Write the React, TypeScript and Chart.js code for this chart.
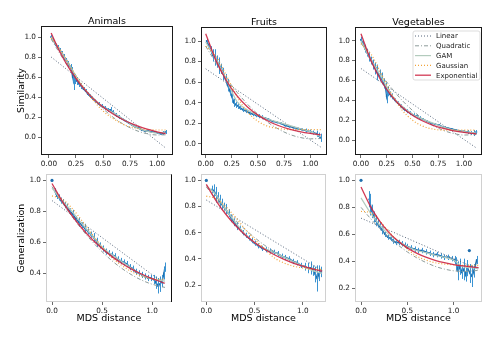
import React, { useEffect, useRef } from 'react';
import { Chart, registerables } from 'chart.js';

Chart.register(...registerables);

const COLUMN_TITLES = ['Animals', 'Fruits', 'Vegetables'];
const ROW_LABELS = ['Similarity', 'Generalization'];
const X_LABEL = 'MDS distance';
const FIT_LABELS = ['Linear', 'Quadratic', 'GAM', 'Gaussian', 'Exponential'];

const X_TICKS_TOP = [0, 0.25, 0.5, 0.75, 1.0];
const X_TICKS_BOTTOM = [0, 0.5, 1.0];
const Y_TICKS_SIM = [0, 0.2, 0.4, 0.6, 0.8, 1.0];
const Y_TICKS_GEN_ANIMALS = [0.4, 0.6, 0.8, 1.0];
const Y_TICKS_GEN = [0.2, 0.4, 0.6, 0.8, 1.0];

// ---------- Similarity: Animals ----------
const SIM_ANIMALS_X = [0.02, 0.04, 0.06, 0.08, 0.10, 0.12, 0.14, 0.16, 0.18, 0.20,
  0.21, 0.22, 0.23, 0.24,
  0.26, 0.28, 0.30, 0.32, 0.34, 0.36, 0.38, 0.40,
  0.43, 0.46, 0.49, 0.52, 0.55,
  0.57, 0.59,
  0.62, 0.65, 0.68, 0.71, 0.74, 0.77, 0.80, 0.83, 0.86, 0.89, 0.92, 0.95, 0.98, 1.01, 1.04,
  1.06, 1.08];
const SIM_ANIMALS_Y = [1.00, 0.97, 0.93, 0.90, 0.87, 0.84, 0.80, 0.77, 0.73, 0.70,
  0.66, 0.60, 0.55, 0.58,
  0.56, 0.53, 0.51, 0.48, 0.46, 0.43, 0.41, 0.39,
  0.36, 0.33, 0.31, 0.29, 0.27,
  0.27, 0.25,
  0.22, 0.20, 0.18, 0.16, 0.14, 0.12, 0.10, 0.09, 0.07, 0.06, 0.06, 0.05, 0.05, 0.04, 0.03,
  0.04, 0.05];
const SIM_ANIMALS_E = [0.02, 0.02, 0.02, 0.02, 0.02, 0.02, 0.03, 0.02, 0.03, 0.03,
  0.04, 0.06, 0.08, 0.05,
  0.04, 0.03, 0.03, 0.02, 0.02, 0.02, 0.02, 0.02,
  0.02, 0.02, 0.02, 0.02, 0.02,
  0.03, 0.02,
  0.02, 0.02, 0.01, 0.01, 0.01, 0.01, 0.01, 0.01, 0.01, 0.01, 0.01, 0.01, 0.01, 0.01, 0.01,
  0.02, 0.02];

// ---------- Similarity: Fruits ----------
const SIM_FRUITS_X = [0.01, 0.03, 0.05, 0.07, 0.09, 0.11, 0.13, 0.15, 0.17, 0.19, 0.21, 0.23, 0.25, 0.27, 0.29, 0.31, 0.33,
  0.36, 0.39, 0.42, 0.45, 0.48, 0.51, 0.54, 0.57, 0.60,
  0.64, 0.68, 0.72, 0.76, 0.80, 0.84, 0.88, 0.92, 0.96, 1.00,
  1.03, 1.06, 1.08, 1.10];
const SIM_FRUITS_Y = [1.00, 0.95, 0.91, 0.86, 0.84, 0.80, 0.76, 0.73, 0.68, 0.63, 0.57, 0.52, 0.46, 0.40, 0.38, 0.37, 0.35,
  0.33, 0.32, 0.30, 0.29, 0.28, 0.27, 0.26, 0.25, 0.24,
  0.22, 0.21, 0.20, 0.18, 0.17, 0.16, 0.15, 0.14, 0.13, 0.12,
  0.11, 0.10, 0.08, 0.06];
const SIM_FRUITS_E = [0.02, 0.03, 0.04, 0.06, 0.08, 0.06, 0.08, 0.05, 0.06, 0.05, 0.06, 0.05, 0.06, 0.04, 0.03, 0.03, 0.02,
  0.02, 0.02, 0.02, 0.02, 0.02, 0.02, 0.02, 0.01, 0.01,
  0.01, 0.01, 0.01, 0.01, 0.01, 0.01, 0.01, 0.01, 0.02, 0.02,
  0.02, 0.03, 0.03, 0.04];

// ---------- Similarity: Vegetables ----------
const SIM_VEG_X = [0.00, 0.02, 0.04, 0.06, 0.08, 0.10, 0.12, 0.14, 0.16, 0.18, 0.20, 0.22, 0.24,
  0.25, 0.26, 0.28, 0.30,
  0.33, 0.36, 0.39, 0.42, 0.45, 0.48, 0.51, 0.54, 0.57, 0.60,
  0.64, 0.68, 0.72, 0.76, 0.80, 0.84, 0.88, 0.92, 0.96, 1.00,
  1.04, 1.07, 1.10, 1.12];
const SIM_VEG_Y = [1.01, 0.97, 0.92, 0.88, 0.84, 0.80, 0.76, 0.72, 0.68, 0.65, 0.62, 0.57, 0.52,
  0.44, 0.49, 0.46, 0.44,
  0.40, 0.37, 0.34, 0.31, 0.29, 0.27, 0.25, 0.24, 0.22, 0.21,
  0.19, 0.17, 0.16, 0.15, 0.13, 0.12, 0.11, 0.10, 0.09, 0.085,
  0.08, 0.07, 0.07, 0.08];
const SIM_VEG_E = [0.03, 0.03, 0.04, 0.04, 0.05, 0.04, 0.05, 0.06, 0.08, 0.06, 0.06, 0.05, 0.06,
  0.07, 0.05, 0.03, 0.03,
  0.02, 0.02, 0.02, 0.02, 0.02, 0.02, 0.02, 0.02, 0.02, 0.01,
  0.01, 0.01, 0.01, 0.01, 0.01, 0.01, 0.01, 0.01, 0.01, 0.01,
  0.02, 0.02, 0.03, 0.02];

// ---------- Generalization: Animals ----------
const GEN_ANIMALS_X = [0.03, 0.05, 0.07, 0.09, 0.11, 0.13, 0.15,
  0.18, 0.21, 0.24, 0.27, 0.30, 0.33, 0.36, 0.39, 0.42, 0.45, 0.48, 0.51, 0.54, 0.57, 0.60, 0.63, 0.66, 0.69, 0.72, 0.75, 0.78, 0.81, 0.84, 0.87, 0.90, 0.93, 0.96, 0.99, 1.02,
  1.04, 1.06, 1.08, 1.10, 1.12, 1.13];
const GEN_ANIMALS_Y = [0.93, 0.90, 0.89, 0.87, 0.86, 0.84, 0.83,
  0.80, 0.78, 0.75, 0.73, 0.71, 0.69, 0.67, 0.65, 0.63, 0.60, 0.58, 0.56, 0.54, 0.53, 0.52, 0.51, 0.49, 0.48, 0.47, 0.46, 0.44, 0.43, 0.41, 0.40, 0.39, 0.38, 0.37, 0.37, 0.36,
  0.34, 0.32, 0.33, 0.35, 0.40, 0.44];
const GEN_ANIMALS_E = [0.02, 0.02, 0.02, 0.02, 0.02, 0.02, 0.02,
  0.02, 0.03, 0.02, 0.03, 0.02, 0.03, 0.02, 0.02, 0.03, 0.03, 0.02, 0.02, 0.02, 0.02, 0.02, 0.02, 0.02, 0.02, 0.02, 0.02, 0.02, 0.02, 0.02, 0.02, 0.02, 0.02, 0.02, 0.02, 0.03,
  0.04, 0.05, 0.05, 0.04, 0.04, 0.03];

// ---------- Generalization: Fruits ----------
const GEN_FRUITS_X = [0.06, 0.08, 0.10, 0.12, 0.14, 0.16, 0.18, 0.20,
  0.23, 0.26, 0.29, 0.32, 0.35, 0.38, 0.41, 0.44, 0.47, 0.50,
  0.54, 0.58, 0.62, 0.66, 0.70, 0.74, 0.78, 0.82, 0.86, 0.90, 0.94, 0.98, 1.02,
  1.05, 1.08, 1.11, 1.13, 1.15, 1.17, 1.19];
const GEN_FRUITS_Y = [0.93, 0.92, 0.89, 0.87, 0.84, 0.82, 0.80, 0.78,
  0.75, 0.71, 0.68, 0.65, 0.63, 0.60, 0.58, 0.56, 0.54, 0.52,
  0.50, 0.48, 0.47, 0.46, 0.45, 0.44, 0.42, 0.41, 0.40, 0.38, 0.37, 0.35, 0.34,
  0.33, 0.33, 0.31, 0.28, 0.25, 0.29, 0.30];
const GEN_FRUITS_E = [0.03, 0.05, 0.06, 0.04, 0.05, 0.04, 0.03, 0.04,
  0.03, 0.03, 0.03, 0.03, 0.02, 0.02, 0.02, 0.02, 0.02, 0.02,
  0.02, 0.02, 0.02, 0.02, 0.02, 0.02, 0.02, 0.02, 0.02, 0.02, 0.02, 0.02, 0.03,
  0.04, 0.05, 0.04, 0.06, 0.10, 0.06, 0.04];

// ---------- Generalization: Vegetables ----------
const GEN_VEG_X = [0.09, 0.10, 0.12, 0.14, 0.16, 0.18, 0.20,
  0.23, 0.26, 0.29, 0.32, 0.35, 0.38, 0.41, 0.44, 0.47, 0.50,
  0.54, 0.58, 0.62, 0.66, 0.70, 0.74, 0.78, 0.82, 0.86, 0.90, 0.94, 0.98,
  1.01, 1.03, 1.05, 1.07, 1.09, 1.11, 1.13, 1.15, 1.18, 1.20, 1.22, 1.25];
const GEN_VEG_Y = [0.86, 0.82, 0.77, 0.73, 0.70, 0.68, 0.66,
  0.63, 0.60, 0.58, 0.57, 0.55, 0.54, 0.54, 0.53, 0.52, 0.51,
  0.50, 0.49, 0.48, 0.48, 0.47, 0.46, 0.45, 0.45, 0.44, 0.43, 0.43, 0.42,
  0.41, 0.38, 0.33, 0.36, 0.32, 0.34, 0.30, 0.35, 0.31, 0.29, 0.33, 0.41];
const GEN_VEG_E = [0.06, 0.08, 0.05, 0.04, 0.04, 0.03, 0.03,
  0.03, 0.02, 0.02, 0.02, 0.02, 0.02, 0.02, 0.02, 0.02, 0.02,
  0.02, 0.02, 0.02, 0.02, 0.02, 0.02, 0.02, 0.02, 0.02, 0.02, 0.02, 0.02,
  0.03, 0.05, 0.07, 0.06, 0.05, 0.08, 0.05, 0.06, 0.07, 0.08, 0.05, 0.03];

// isolated points (x, y)
const GEN_START_POINT = [0.0, 1.0];
const GEN_VEG_OUTLIER = [1.17, 0.48];

// ---------- Fitted curves ----------
const CX_SA = [0.02, 0.1, 0.2, 0.3, 0.4, 0.5, 0.6, 0.7, 0.8, 0.9, 1.0, 1.08];
const LIN_SA = [[0.02, 0.80], [1.08, -0.11]];
const QUA_SA = [0.98, 0.835, 0.668, 0.52, 0.392, 0.283, 0.192, 0.121, 0.068, 0.035, 0.02, 0.022];
const GAM_SA = [1.0, 0.87, 0.70, 0.52, 0.40, 0.30, 0.24, 0.17, 0.10, 0.06, 0.04, 0.05];
const GAU_SA = [0.99, 0.88, 0.70, 0.53, 0.38, 0.26, 0.18, 0.12, 0.09, 0.075, 0.07, 0.07];
const EXP_SA = [1.04, 0.852, 0.663, 0.513, 0.394, 0.299, 0.225, 0.165, 0.119, 0.081, 0.052, 0.033];

const CX_SF = [0.0, 0.1, 0.2, 0.3, 0.4, 0.5, 0.6, 0.7, 0.8, 0.9, 1.0, 1.1];
const LIN_SF = [[0.0, 0.73], [1.1, -0.03]];
const QUA_SF = [0.95, 0.784, 0.634, 0.502, 0.386, 0.288, 0.206, 0.142, 0.094, 0.064, 0.05, 0.053];
const GAM_SF = [0.99, 0.82, 0.62, 0.41, 0.33, 0.28, 0.24, 0.21, 0.18, 0.15, 0.12, 0.07];
const GAU_SF = [0.95, 0.85, 0.66, 0.46, 0.31, 0.22, 0.17, 0.15, 0.14, 0.14, 0.14, 0.14];
const EXP_SF = [1.07, 0.807, 0.612, 0.467, 0.36, 0.28, 0.221, 0.177, 0.144, 0.12, 0.102, 0.088];

const CX_SV = [0.0, 0.1, 0.2, 0.3, 0.4, 0.5, 0.6, 0.7, 0.8, 0.9, 1.0, 1.12];
const LIN_SV = [[0.0, 0.72], [1.12, -0.08]];
const QUA_SV = [0.98, 0.809, 0.655, 0.518, 0.399, 0.298, 0.213, 0.146, 0.097, 0.065, 0.05, 0.055];
const GAM_SV = [1.0, 0.80, 0.63, 0.45, 0.34, 0.26, 0.21, 0.17, 0.13, 0.10, 0.085, 0.07];
const GAU_SV = [0.97, 0.86, 0.66, 0.46, 0.30, 0.20, 0.14, 0.11, 0.10, 0.10, 0.10, 0.10];
const EXP_SV = [1.07, 0.792, 0.589, 0.44, 0.33, 0.25, 0.191, 0.148, 0.117, 0.093, 0.076, 0.062];

const CX_GA = [0.0, 0.1, 0.2, 0.3, 0.4, 0.5, 0.6, 0.7, 0.8, 0.9, 1.0, 1.13];
const LIN_GA = [[0.0, 0.87], [1.13, 0.33]];
const QUA_GA = [0.96, 0.859, 0.767, 0.683, 0.607, 0.54, 0.481, 0.431, 0.389, 0.355, 0.33, 0.309];
const GAM_GA = [0.95, 0.87, 0.80, 0.72, 0.645, 0.57, 0.52, 0.475, 0.43, 0.39, 0.365, 0.35];
const GAU_GA = [0.90, 0.88, 0.82, 0.74, 0.655, 0.57, 0.50, 0.45, 0.41, 0.38, 0.365, 0.36];
const EXP_GA = [0.98, 0.868, 0.773, 0.691, 0.62, 0.56, 0.508, 0.464, 0.426, 0.394, 0.366, 0.336];

const CX_GF = [0.0, 0.1, 0.2, 0.3, 0.4, 0.5, 0.6, 0.7, 0.8, 0.9, 1.0, 1.1, 1.2];
const LIN_GF = [[0.0, 0.85], [1.2, 0.31]];
const QUA_GF = [0.95, 0.859, 0.774, 0.697, 0.626, 0.563, 0.506, 0.457, 0.414, 0.379, 0.35, 0.329, 0.314];
const GAM_GF = [0.96, 0.89, 0.78, 0.68, 0.59, 0.525, 0.48, 0.45, 0.415, 0.38, 0.345, 0.31, 0.29];
const GAU_GF = [0.88, 0.86, 0.80, 0.72, 0.63, 0.55, 0.48, 0.41, 0.37, 0.345, 0.33, 0.32, 0.32];
const EXP_GF = [0.97, 0.846, 0.743, 0.657, 0.585, 0.525, 0.475, 0.433, 0.398, 0.368, 0.344, 0.324, 0.306];

const CX_GV = [0.0, 0.1, 0.2, 0.3, 0.4, 0.5, 0.6, 0.7, 0.8, 0.9, 1.0, 1.1, 1.27];
const LIN_GV = [[0.0, 0.72], [1.27, 0.34]];
const QUA_GV = [0.80, 0.719, 0.645, 0.579, 0.521, 0.47, 0.427, 0.392, 0.363, 0.343, 0.33, 0.325, 0.333];
const GAM_GV = [0.87, 0.76, 0.67, 0.60, 0.55, 0.51, 0.48, 0.465, 0.445, 0.43, 0.41, 0.36, 0.35];
const GAU_GV = [0.77, 0.76, 0.70, 0.62, 0.55, 0.49, 0.44, 0.41, 0.39, 0.38, 0.375, 0.37, 0.37];
const EXP_GV = [0.95, 0.809, 0.70, 0.615, 0.55, 0.50, 0.461, 0.431, 0.408, 0.39, 0.376, 0.366, 0.353];

// ---------- styles ----------
const DATA_COLOR = '#1f6fae';
const ERR_COLOR = '#3a93d2';
const FIT_STYLES = [
  { color: '#55657a', dash: [1, 2], width: 1 },
  { color: '#8d9c9a', dash: [4, 2, 1, 2], width: 1 },
  { color: '#b3cbbd', dash: [], width: 1.2 },
  { color: '#f2a43a', dash: [1, 2], width: 1.2 },
  { color: 'rgba(205,35,65,0.9)', dash: [], width: 1.3 },
];
const FONT = 'DejaVu Sans';

type PanelDef = {
  frame: number[];
  xr: number[];
  yr: number[];
  xTicks: number[];
  xDec: number;
  yTicks: number[];
  title?: string;
  yLabel?: string;
  xLabel?: string;
  data: number[][];
  extra: number[][];
  lin: number[][];
  cx: number[];
  fits: number[][];
  legend?: boolean;
  frameColor: string;
  rightEdgeColor?: string;
};

const PANELS: PanelDef[] = [
  { frame: [41, 26, 173, 155], xr: [-0.074, 1.148], yr: [-0.18, 1.11], xTicks: X_TICKS_TOP, xDec: 2, yTicks: Y_TICKS_SIM,
    title: COLUMN_TITLES[0], yLabel: ROW_LABELS[0], data: [SIM_ANIMALS_X, SIM_ANIMALS_Y, SIM_ANIMALS_E], extra: [],
    lin: LIN_SA, cx: CX_SA, fits: [QUA_SA, GAM_SA, GAU_SA, EXP_SA], frameColor: '#1a1a1a' },
  { frame: [201, 27, 327, 155], xr: [-0.045, 1.16], yr: [-0.107, 1.136], xTicks: X_TICKS_TOP, xDec: 2, yTicks: Y_TICKS_SIM,
    title: COLUMN_TITLES[1], data: [SIM_FRUITS_X, SIM_FRUITS_Y, SIM_FRUITS_E], extra: [],
    lin: LIN_SF, cx: CX_SF, fits: [QUA_SF, GAM_SF, GAU_SF, EXP_SF], frameColor: '#1a1a1a' },
  { frame: [355, 27, 482, 155], xr: [-0.058, 1.175], yr: [-0.151, 1.138], xTicks: X_TICKS_TOP, xDec: 2, yTicks: Y_TICKS_SIM,
    title: COLUMN_TITLES[2], data: [SIM_VEG_X, SIM_VEG_Y, SIM_VEG_E], extra: [],
    lin: LIN_SV, cx: CX_SV, fits: [QUA_SV, GAM_SV, GAU_SV, EXP_SV], legend: true, frameColor: '#1a1a1a' },
  { frame: [46, 174, 172, 302], xr: [-0.06, 1.2], yr: [0.215, 1.039], xTicks: X_TICKS_BOTTOM, xDec: 1, yTicks: Y_TICKS_GEN_ANIMALS,
    yLabel: ROW_LABELS[1], xLabel: X_LABEL, data: [GEN_ANIMALS_X, GEN_ANIMALS_Y, GEN_ANIMALS_E], extra: [GEN_START_POINT],
    lin: LIN_GA, cx: CX_GA, fits: [QUA_GA, GAM_GA, GAU_GA, EXP_GA], frameColor: '#d0d0d0', rightEdgeColor: '#111111' },
  { frame: [201, 174, 326, 302], xr: [-0.055, 1.24], yr: [0.07, 1.046], xTicks: X_TICKS_BOTTOM, xDec: 1, yTicks: Y_TICKS_GEN,
    xLabel: X_LABEL, data: [GEN_FRUITS_X, GEN_FRUITS_Y, GEN_FRUITS_E], extra: [GEN_START_POINT],
    lin: LIN_GF, cx: CX_GF, fits: [QUA_GF, GAM_GF, GAU_GF, EXP_GF], frameColor: '#d0d0d0' },
  { frame: [355, 174, 482, 302], xr: [-0.065, 1.307], yr: [0.099, 1.044], xTicks: X_TICKS_BOTTOM, xDec: 1, yTicks: Y_TICKS_GEN,
    xLabel: X_LABEL, data: [GEN_VEG_X, GEN_VEG_Y, GEN_VEG_E], extra: [GEN_START_POINT, GEN_VEG_OUTLIER],
    lin: LIN_GV, cx: CX_GV, fits: [QUA_GV, GAM_GV, GAU_GV, EXP_GV], frameColor: '#d0d0d0' },
];

const ML = 40; // space left of frame (y axis)
const MR = 8;
const Y_LABEL_X = 22; // page x of the rotated row label centre
const X_LABEL_Y = 319; // page y of the x label centre

function Panel({ p }: { p: PanelDef }) {
  const ref = useRef<HTMLCanvasElement | null>(null);
  const isTop = !!p.title;
  const mt = isTop ? 9 : 6;
  const mb = isTop ? 16 : 32;
  const [l, t, r, b] = p.frame;
  const left = l - ML;
  const top = t - mt;
  const width = r - l + ML + MR;
  const height = b - t + mt + mb;

  useEffect(() => {
    const [xs, ys, es] = p.data;
    const datasets: any[] = [];
    datasets.push({
      data: xs.map((x, i) => ({ x, y: ys[i] })),
      showLine: true, borderColor: DATA_COLOR, borderWidth: 1.5,
      pointRadius: 1, pointBackgroundColor: DATA_COLOR, pointBorderWidth: 0,
      order: 7,
    });
    p.extra.forEach((pt) => datasets.push({
      data: [{ x: pt[0], y: pt[1] }], showLine: false, pointRadius: 1.6,
      pointBackgroundColor: DATA_COLOR, pointBorderWidth: 0, order: 7,
    }));
    datasets.push({
      data: p.lin.map((pt) => ({ x: pt[0], y: pt[1] })), showLine: true, pointRadius: 0,
      borderColor: FIT_STYLES[0].color, borderDash: FIT_STYLES[0].dash, borderWidth: FIT_STYLES[0].width, order: 5,
    });
    p.fits.forEach((ys2, k) => {
      const st = FIT_STYLES[k + 1];
      datasets.push({
        data: p.cx.map((x, i) => ({ x, y: ys2[i] })), showLine: true, pointRadius: 0,
        borderColor: st.color, borderDash: st.dash, borderWidth: st.width,
        cubicInterpolationMode: 'monotone', order: 4 - k,
      });
    });

    const errPlugin = {
      id: 'errbars',
      afterDatasetDraw(chart: any, args: any) {
        if (args.index !== 0) return;
        const { ctx, chartArea: ca, scales } = chart;
        ctx.save();
        ctx.beginPath();
        ctx.rect(ca.left, ca.top, ca.right - ca.left, ca.bottom - ca.top);
        ctx.clip();
        ctx.strokeStyle = ERR_COLOR;
        ctx.lineWidth = 1;
        xs.forEach((x, i) => {
          const px = Math.round(scales.x.getPixelForValue(x)) + 0.5;
          ctx.beginPath();
          ctx.moveTo(px, scales.y.getPixelForValue(ys[i] - es[i]));
          ctx.lineTo(px, scales.y.getPixelForValue(ys[i] + es[i]));
          ctx.stroke();
        });
        ctx.restore();
      },
    };

    const framePlugin = {
      id: 'frame',
      afterDatasetsDraw(chart: any) {
        const { ctx, chartArea: ca } = chart;
        ctx.save();
        ctx.strokeStyle = p.frameColor;
        ctx.lineWidth = 1;
        ctx.strokeRect(Math.round(ca.left) + 0.5, Math.round(ca.top) + 0.5,
          Math.round(ca.right - ca.left) - 1, Math.round(ca.bottom - ca.top) - 1);
        if (p.rightEdgeColor) {
          ctx.strokeStyle = p.rightEdgeColor;
          ctx.beginPath();
          ctx.moveTo(Math.round(ca.right) - 0.5, ca.top);
          ctx.lineTo(Math.round(ca.right) - 0.5, ca.bottom);
          ctx.stroke();
        }
        if (p.legend) {
          const bx = ca.right - 69, by = ca.top + 4, bw = 67, bh = 49;
          ctx.fillStyle = 'rgba(255,255,255,0.85)';
          ctx.strokeStyle = '#d4d4d4';
          ctx.lineWidth = 0.8;
          ctx.beginPath();
          ctx.roundRect(bx, by, bw, bh, 2);
          ctx.fill();
          ctx.stroke();
          FIT_LABELS.forEach((lab, i) => {
            const st = FIT_STYLES[i];
            const yy = by + 5 + i * 9.8;
            ctx.strokeStyle = st.color;
            ctx.lineWidth = st.width;
            ctx.setLineDash(st.dash);
            ctx.beginPath();
            ctx.moveTo(ca.right - 67, yy);
            ctx.lineTo(ca.right - 51, yy);
            ctx.stroke();
            ctx.setLineDash([]);
            ctx.fillStyle = '#222';
            ctx.font = `7px "${FONT}"`;
            ctx.textBaseline = 'middle';
            ctx.textAlign = 'left';
            ctx.fillText(lab, ca.right - 46, yy + 0.5);
          });
        }
        ctx.restore();
      },
    };

    const tickCfg = (vals: number[], dec: number) => ({
      color: '#222', font: { family: FONT, size: 7.3 }, padding: 2,
      autoSkip: false, maxRotation: 0, minRotation: 0,
      callback: (v: any) => Number(v).toFixed(dec),
    });
    const gridCfg = { display: true, drawOnChartArea: false, drawTicks: true, tickLength: 3, color: '#444', lineWidth: 0.8 };

    const yTitlePad = Y_LABEL_X - left - 5.7;
    const xTitlePad = (b + mb) - X_LABEL_Y - 5.7;

    const chart = new Chart(ref.current as HTMLCanvasElement, {
      type: 'scatter',
      data: { datasets },
      options: {
        animation: false,
        responsive: false,
        devicePixelRatio: 1,
        layout: { padding: { top: isTop ? 0 : mt, right: MR, bottom: 0, left: 0 } },
        plugins: {
          legend: { display: false },
          tooltip: { enabled: false },
          title: isTop
            ? { display: true, text: p.title, fullSize: false, color: '#000', font: { family: FONT, size: 9.5, weight: 'normal', lineHeight: '9px' }, padding: { top: 0, bottom: 0 } }
            : { display: false },
        },
        scales: {
          x: {
            type: 'linear', min: p.xr[0], max: p.xr[1],
            afterBuildTicks: (s: any) => { s.ticks = p.xTicks.map((v) => ({ value: v })); },
            afterFit: (s: any) => { s.height = mb; },
            grid: gridCfg, border: { display: false },
            ticks: tickCfg(p.xTicks, p.xDec),
            title: p.xLabel
              ? { display: true, text: p.xLabel, color: '#000', font: { family: FONT, size: 9.5 }, padding: { top: 0, bottom: xTitlePad } }
              : { display: false },
          },
          y: {
            type: 'linear', min: p.yr[0], max: p.yr[1],
            afterBuildTicks: (s: any) => { s.ticks = p.yTicks.map((v) => ({ value: v })); },
            afterFit: (s: any) => { s.width = ML; },
            grid: gridCfg, border: { display: false },
            ticks: tickCfg(p.yTicks, 1),
            title: p.yLabel
              ? { display: true, text: p.yLabel, color: '#000', font: { family: FONT, size: 9.5 }, padding: { top: yTitlePad, bottom: 0 } }
              : { display: false },
          },
        },
      } as any,
      plugins: [errPlugin, framePlugin],
    });
    return () => chart.destroy();
  }, []);

  return (
    <canvas
      ref={ref}
      width={width}
      height={height}
      style={{ position: 'absolute', left, top, width, height }}
    />
  );
}

export default function App() {
  return (
    <div style={{ position: 'fixed', left: 0, top: 0, width: 500, height: 342, background: '#fff', overflow: 'hidden' }}>
      {PANELS.map((p, i) => <Panel key={i} p={p} />)}
    </div>
  );
}
